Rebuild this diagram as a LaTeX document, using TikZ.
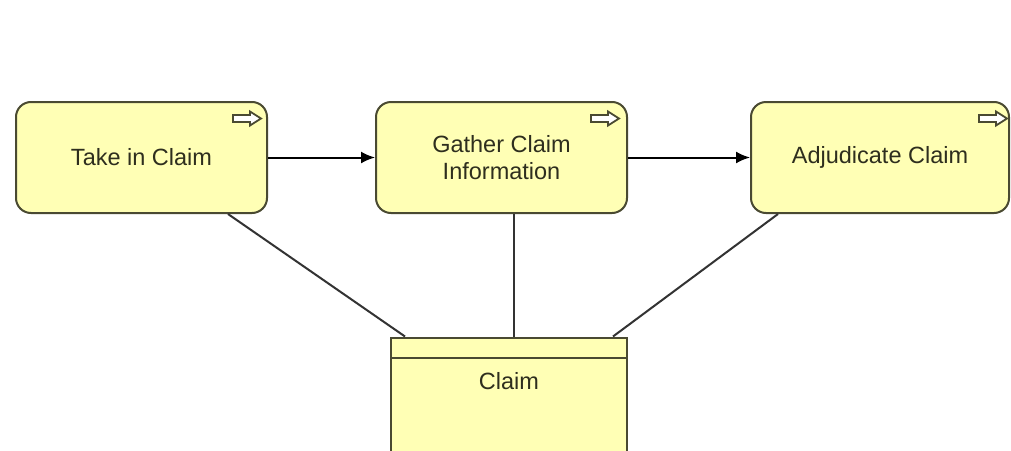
\documentclass[tikz,border=0pt]{standalone}
\usepackage{fontspec}
\setmainfont{Liberation Sans}
\usetikzlibrary{arrows.meta,calc}
\definecolor{procfill}{HTML}{FFFFB5}
\definecolor{procline}{HTML}{4A4A32}
\definecolor{proctext}{HTML}{2E2E1E}
\begin{document}
\begin{tikzpicture}[x=1pt,y=-1pt,
  procbox/.style={draw=procline,fill=procfill,line width=2pt,rounded corners=15pt,
    minimum width=251pt,minimum height=111pt,inner sep=0pt,align=center,
    text=proctext,font=\fontsize{23.5}{27}\selectfont},
  objbox/.style={draw=procline,fill=procfill,line width=2pt,
    minimum width=236pt,minimum height=118pt,inner sep=0pt},
  flow/.style={line width=2pt,draw=black,-{Latex[length=14pt,width=12pt]}},
  assoc/.style={line width=2pt,draw=black!80},
  icon/.style={draw=procline,line width=1.8pt,fill=white}]
\useasboundingbox (0,0) rectangle (1011,450);
\fill[white] (0,0) rectangle (1011,450);
% process boxes
\node[procbox] (take) at (141.5,157.5) {Take in Claim};
\node[procbox] (gather) at (501.5,157.5) {Gather Claim\\Information};
\node[procbox,minimum width=258pt] (adj) at (880,157.5) {Adjudicate Claim};
% data object
\node[objbox] (claim) at (509,396.5) {};
\coordinate (hl) at ($(claim.north west)+(0,21)$);
\coordinate (hr) at ($(claim.north east)+(0,21)$);
\draw[procline,line width=2pt] (hl) -- (hr);
\node[text=proctext,font=\fontsize{23.5}{27}\selectfont] (claimtxt) at (509,381) {Claim};
% icons (process arrows)
\foreach \n/\dx in {take/-35, gather/-37, adj/-31}{
  \draw[icon] ($(\n.north east)+(\dx,14)$) -- ++(17,0) -- ++(0,-3.5) -- ++(11,7)
     -- ++(-11,7) -- ++(0,-3.5) -- ++(-17,0) -- cycle;
}
% flows
\draw[flow] (take.east) -- (gather.west);
\draw[flow] (gather.east) -- (adj.west);
% associations
\draw[assoc] ([xshift=86.5pt]take.south) -- ([xshift=-104pt]claim.north);
\draw[assoc] ([xshift=12.5pt]gather.south) -- ([xshift=5pt]claim.north);
\draw[assoc] ([xshift=-102pt]adj.south) -- ([xshift=104pt]claim.north);
\end{tikzpicture}
\end{document}
